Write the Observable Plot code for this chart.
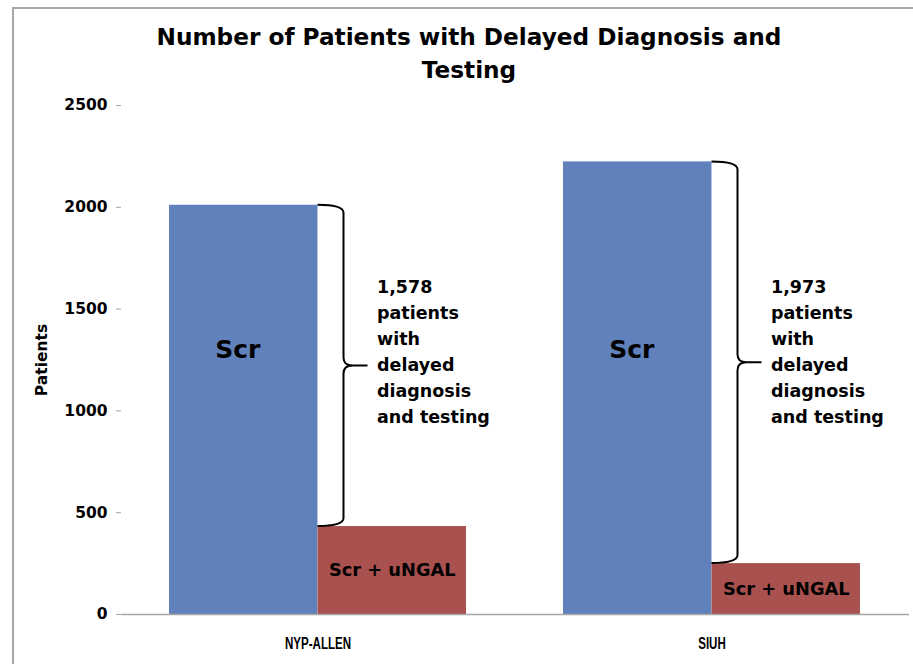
<!DOCTYPE html>
<html>
<head>
<meta charset="utf-8">
<script src="https://cdn.jsdelivr.net/npm/d3@7"></script>
<script src="https://cdn.jsdelivr.net/npm/@observablehq/plot@0.6"></script>
<style>
  html, body { margin: 0; padding: 0; background: #fff; overflow: hidden; }
  #wrap { position: relative; width: 913px; height: 664px; overflow: hidden; }
  #border { position: absolute; left: 12px; top: 7px; width: 1000px; height: 800px;
            border-left: 2px solid #a6a6a6; border-top: 2px solid #a6a6a6; pointer-events: none; }
  #title { box-sizing: border-box; height: 95px; margin-left: 12px; width: 914px; padding-top: 20px;
           text-align: center; font-family: "DejaVu Sans", sans-serif; font-weight: bold;
           font-size: 23.2px; line-height: 33px; color: #000; }
  #chart svg { display: block; }
</style>
</head>
<body>
<div id="wrap">
  <div id="border"></div>
  <div id="title">Number of Patients with Delayed Diagnosis and<br>Testing</div>
  <div id="chart"></div>
</div>
<script>
const hospitals = ["NYP-ALLEN", "SIUH"];
const scrPatients = [2010, 2223];
const scrUngalPatients = [432, 250];
const delayedPatients = [1578, 1973];
const seriesNames = ["Scr", "Scr + uNGAL"];
const yTicks = [0, 500, 1000, 1500, 2000, 2500];
const yLabel = "Patients";

const rows = hospitals.map((h, i) => ({
  hospital: h,
  scr: scrPatients[i],
  ungal: scrUngalPatients[i],
  delayed: delayedPatients[i]
}));

const blue = "#6181BD";
const red = "#A9514E";
const gray = "#a6a6a6";

const width = 913, height = 569;
const marginLeft = 121, marginRight = 4, marginTop = 10, marginBottom = 50;
const paddingInner = 0.246, paddingOuter = 0.123;
const bw = d3.scaleBand().domain(hospitals).range([marginLeft, width - marginRight])
  .paddingInner(paddingInner).paddingOuter(paddingOuter).bandwidth();
const half = bw / 2;
const labelY = 1300;
const fmt = d3.format(",");

function braces(index, scales) {
  const g = d3.create("svg:g").attr("fill", "none").attr("stroke", "#000").attr("stroke-width", 2);
  const sx = scales.x, sy = scales.y;
  const b = typeof sx.bandwidth === "function" ? sx.bandwidth() : bw;
  for (const r of rows) {
    const x0 = sx(r.hospital) + b / 2;
    const xv = x0 + 26, xt = x0 + 50, rr = 8;
    const yTop = sy(r.scr), yBot = sy(r.ungal), ym = (yTop + yBot) / 2;
    const p = d3.path();
    p.moveTo(x0, yTop);
    p.quadraticCurveTo(xv, yTop, xv, yTop + rr);
    p.lineTo(xv, ym - rr);
    p.quadraticCurveTo(xv, ym, xv + 9, ym);
    p.lineTo(xt, ym);
    p.moveTo(xv + 9, ym);
    p.quadraticCurveTo(xv, ym, xv, ym + rr);
    p.lineTo(xv, yBot - rr);
    p.quadraticCurveTo(xv, yBot, x0, yBot);
    g.append("path").attr("d", p.toString());
  }
  return g.node();
}

const chart = Plot.plot({
  width, height, marginLeft, marginRight, marginTop, marginBottom,
  style: { fontFamily: "'DejaVu Sans', sans-serif", fontWeight: "bold", color: "#000", background: "transparent" },
  x: { domain: hospitals, type: "band", paddingInner, paddingOuter, axis: null },
  y: { domain: [0, 2500], axis: null },
  marks: [
    Plot.barY(rows, { x: "hospital", y: "scr", fill: blue, insetLeft: 0, insetRight: half }),
    Plot.barY(rows, { x: "hospital", y: "ungal", fill: red, insetLeft: half, insetRight: 0 }),
    Plot.ruleY([0], { stroke: gray, strokeWidth: 1.5 }),
    Plot.axisY({ ticks: yTicks, tickSize: 5, tickPadding: 9, stroke: gray, fill: "#000",
                 line: true, label: yLabel, labelAnchor: "center", labelOffset: 86, labelArrow: "none",
                 fontSize: 15.5, fontWeight: "bold", fontFamily: "'DejaVu Sans', sans-serif", tickFormat: d => String(d) }),
    Plot.axisX({ tickSize: 0, tickPadding: 22, label: null, fontSize: 17, fontWeight: "bold",
                 fontFamily: "'Liberation Sans', sans-serif", fill: "#000", ariaLabel: "x-labels" }),
    Plot.text(rows, { x: "hospital", y: labelY, text: () => seriesNames[0], dx: -half / 2 - 6,
                      fontSize: 25, fontWeight: "bold", fill: "#000" }),
    Plot.text(rows, { x: "hospital", y: d => d.ungal / 2, text: () => seriesNames[1], dx: half / 2,
                      fontSize: 17.8, fontWeight: "bold", fill: "#000" }),
    Plot.text(rows, { x: "hospital", y: labelY, text: d => `${fmt(d.delayed)}\npatients\nwith\ndelayed\ndiagnosis\nand testing`,
                      dx: 59, textAnchor: "start", lineAnchor: "middle", lineHeight: 1.49,
                      fontSize: 17.5, fontWeight: "bold", fill: "#000" }),
    braces
  ]
});
document.getElementById("chart").appendChild(chart);

// condense the category labels horizontally, as in the reference
const xTexts = Array.from(chart.querySelectorAll("text")).filter(t => hospitals.includes(t.textContent));
for (const t of xTexts) {
  const tr = t.getAttribute("transform");
  if (tr && tr.includes("translate")) {
    t.setAttribute("transform", tr + " scale(0.68,1)");
  } else {
    const x = +t.getAttribute("x") || 0, y = +t.getAttribute("y") || 0;
    t.removeAttribute("x"); t.removeAttribute("y");
    t.setAttribute("transform", `translate(${x},${y}) scale(0.68,1)`);
  }
}
</script>
</body>
</html>
